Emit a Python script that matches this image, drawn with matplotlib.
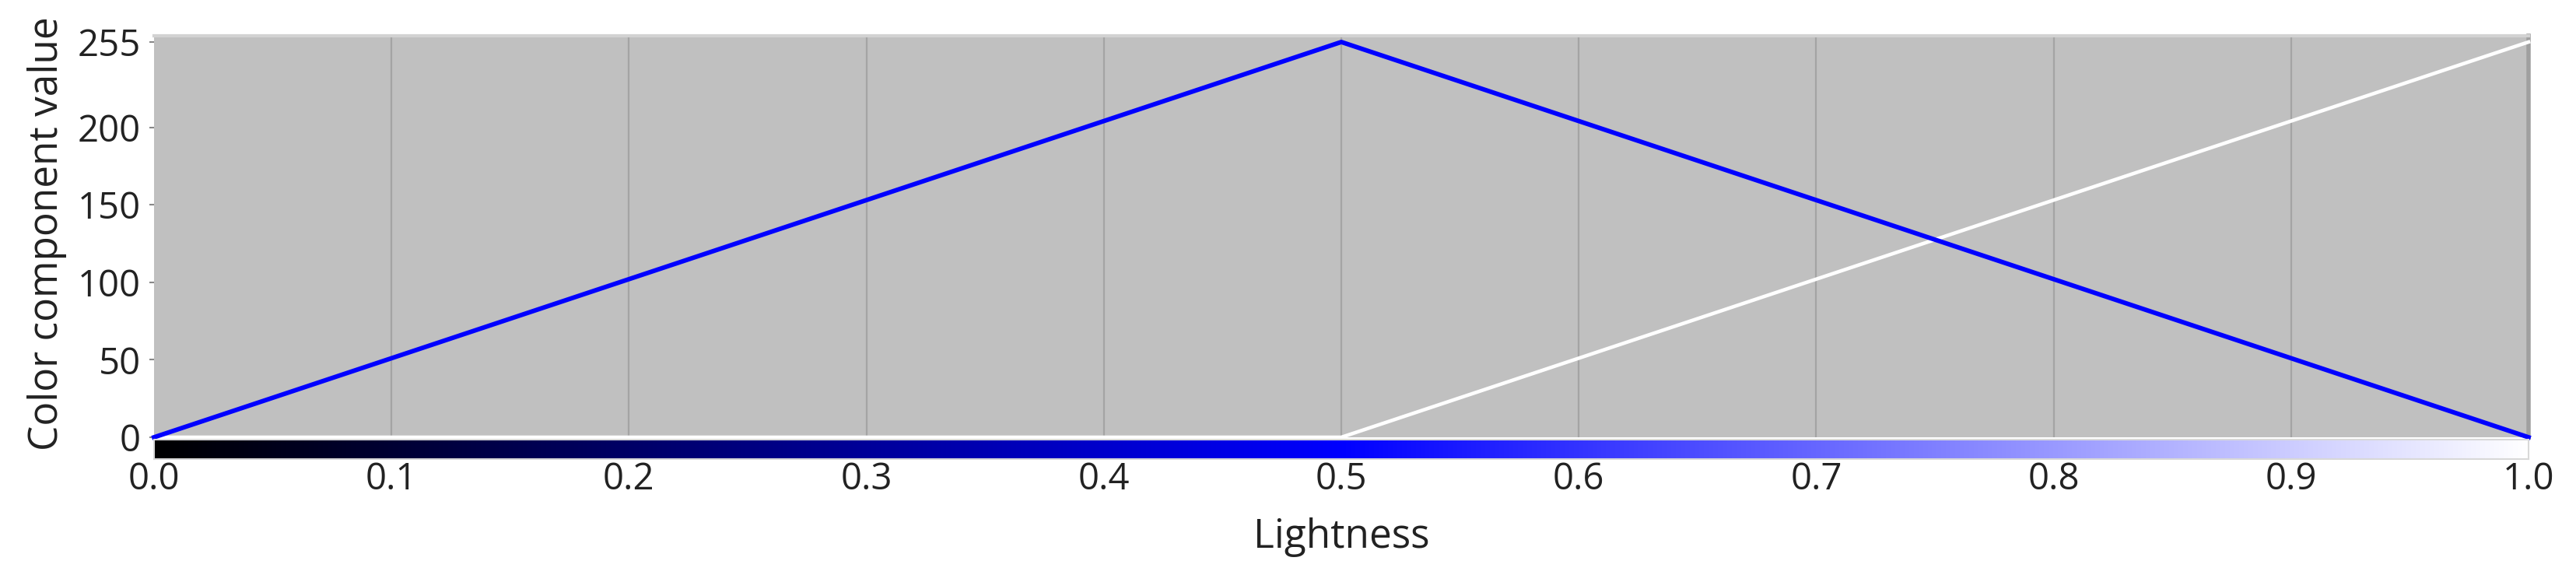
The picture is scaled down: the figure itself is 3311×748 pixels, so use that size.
import numpy as np
import matplotlib
matplotlib.use("Agg")
import matplotlib.pyplot as plt

plt.rcParams['font.family'] = ['Open Sans', 'DejaVu Sans']

lightness = [0.0, 0.5, 1.0]
blue_component = [0, 255, 0]
red_green_component = [0, 0, 255]
x_ticks = [0.0, 0.1, 0.2, 0.3, 0.4, 0.5, 0.6, 0.7, 0.8, 0.9, 1.0]
y_ticks = [0, 50, 100, 150, 200, 255]

W, H = 3311, 748
fig = plt.figure(figsize=(W / 100, H / 100), dpi=100)

left, right = 198 / W, 3250 / W
ax = fig.add_axes([left, 1 - 562 / H, right - left, (562 - 46) / H])
ax.set_facecolor('#c0c0c0')
ax.set_xlim(0, 1)
ax.set_ylim(0, 259)
for xv in x_ticks[1:-1]:
    ax.axvline(xv, color='#a4a4a4', lw=1.6, zorder=1)
ax.plot(lightness, red_green_component, color='white', lw=3.3, zorder=3, clip_on=False)
ax.plot(lightness, blue_component, color='#0000ff', lw=4.2, zorder=4, clip_on=False)
ax.set_yticks(y_ticks)
ax.set_yticklabels([str(v) for v in y_ticks], fontsize=34, color='#222222')
ax.tick_params(axis='y', length=4.5, width=1.5, color='#888888', pad=8)
ax.set_xticks([])
for s in ['left', 'bottom']:
    ax.spines[s].set_visible(False)
ax.spines['top'].set_color('#d2d2d2')
ax.spines['top'].set_linewidth(3)
ax.spines['right'].set_color('#a0a0a0')
ax.spines['right'].set_linewidth(4)
ax.set_ylabel('Color component value', fontsize=37, color='#222222')
ax.yaxis.set_label_coords(-0.0452, (748 - 300 - 186) / 516)
ax.yaxis.label.set_va('center')

# Colour strip (HSL lightness gradient, blue hue)
cax = fig.add_axes([left, 1 - 590 / H, right - left, (590 - 565) / H])
Ls = np.linspace(0, 1, 1024)
rgb = np.zeros((1, Ls.size, 3))
lo = Ls < 0.5
rgb[0, lo, 2] = 2 * Ls[lo]
rgb[0, ~lo, 0] = 2 * Ls[~lo] - 1
rgb[0, ~lo, 1] = 2 * Ls[~lo] - 1
rgb[0, ~lo, 2] = 1.0
cax.imshow(rgb, aspect='auto', extent=[0, 1, 0, 1])
cax.set_xlim(0, 1)
cax.set_yticks([])
cax.set_xticks(x_ticks)
cax.set_xticklabels([f'{v:.1f}' for v in x_ticks], fontsize=34, color='#222222')
cax.tick_params(axis='x', length=0, pad=2)
for s in cax.spines.values():
    s.set_color('#d8d8d8')
    s.set_linewidth(1.5)
cax.set_xlabel('Lightness', fontsize=37, color='#222222')
cax.xaxis.set_label_coords(0.5, -4.0)
cax.xaxis.label.set_va('center')

fig.savefig('out.png', dpi=100)
